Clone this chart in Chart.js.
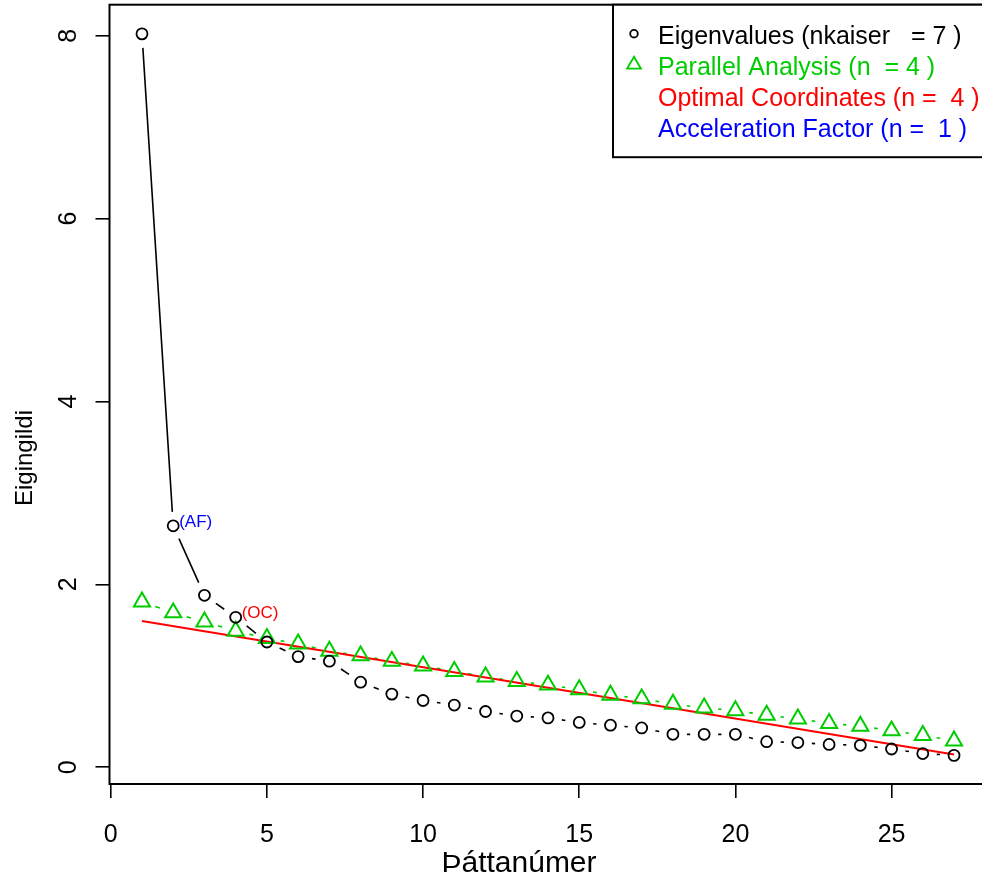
<!DOCTYPE html>
<html>
<head>
<meta charset="utf-8">
<script src="https://cdn.jsdelivr.net/npm/chart.js@4"></script>
<style>
  html, body { margin: 0; padding: 0; background: #fff; overflow: hidden; }
  canvas { display: block; }
</style>
</head>
<body>
<canvas id="scree" width="1000" height="882"></canvas>
<script>
// values
var factorNumbers = [1, 2, 3, 4, 5, 6, 7, 8, 9, 10, 11, 12, 13, 14, 15, 16, 17, 18, 19, 20, 21, 22, 23, 24, 25, 26, 27];
var eigenvalues = [8.02, 2.64, 1.88, 1.64, 1.37, 1.21, 1.16, 0.93, 0.80, 0.73, 0.68, 0.61, 0.56, 0.54, 0.49, 0.46, 0.43, 0.36, 0.36, 0.36, 0.28, 0.27, 0.25, 0.24, 0.20, 0.15, 0.13];
var parallelAnalysis = [1.81, 1.69, 1.59, 1.49, 1.41, 1.35, 1.27, 1.22, 1.16, 1.11, 1.05, 0.99, 0.94, 0.90, 0.85, 0.79, 0.75, 0.69, 0.65, 0.62, 0.57, 0.53, 0.48, 0.45, 0.40, 0.35, 0.29];
var ocLineX = [1, 27];
var ocLineY = [1.60, 0.14];
var xTickValues = [0, 5, 10, 15, 20, 25];
var yTickValues = [0, 2, 4, 6, 8];
var legendLabels = [
    'Eigenvalues (nkaiser   = 7 )',
    'Parallel Analysis (n  = 4 )',
    'Optimal Coordinates (n =  4 )',
    'Acceleration Factor (n =  1 )'
];
var legendColors = ['#000000', '#00cd00', '#ff0000', '#0000ff'];
var legendSymbols = ['circle', 'triangle', null, null];
var afFactor = 2;
var ocFactor = 4;

var FONT = "'Liberation Sans', Arial, sans-serif";

function toPoints(xs, ys) {
    return xs.map(function(x, i) { return { x: x, y: ys[i] }; });
}

// box + R style "b" lines (segments with gaps around the symbols)
var rBoxLines = {
    id: 'rBoxLines',
    beforeDatasetsDraw: function(chart) {
        var a = chart.chartArea, ctx = chart.ctx;
        ctx.save();
        ctx.lineWidth = 2;
        ctx.strokeStyle = '#000';
        ctx.strokeRect(a.left, a.top, a.right - a.left, a.bottom - a.top);
        chart.data.datasets.forEach(function(ds, i) {
            if (!ds.gap) return;
            var pts = chart.getDatasetMeta(i).data;
            ctx.strokeStyle = ds.borderColor;
            ctx.lineWidth = ds.segWidth;
            ctx.beginPath();
            for (var k = 1; k < pts.length; k++) {
                var p0 = pts[k - 1], p1 = pts[k];
                var dx = p1.x - p0.x, dy = p1.y - p0.y;
                var len = Math.sqrt(dx * dx + dy * dy);
                if (len <= 2 * ds.gap) continue;
                var ux = dx / len, uy = dy / len;
                ctx.moveTo(p0.x + ux * ds.gap, p0.y + uy * ds.gap);
                ctx.lineTo(p1.x - ux * ds.gap, p1.y - uy * ds.gap);
            }
            ctx.stroke();
        });
        ctx.restore();
    }
};

// y tick labels (rotated like R), titles, legend box and (AF)/(OC) labels
var rText = {
    id: 'rText',
    afterDraw: function(chart) {
        var ctx = chart.ctx, a = chart.chartArea;
        var yScale = chart.scales.y;
        ctx.save();
        ctx.fillStyle = '#000';

        // y tick labels, reading bottom to top
        ctx.font = '25px ' + FONT;
        ctx.textAlign = 'center';
        ctx.textBaseline = 'middle';
        yScale.ticks.forEach(function(t) {
            ctx.save();
            ctx.translate(69.5, yScale.getPixelForValue(t.value));
            ctx.rotate(-Math.PI / 2);
            ctx.fillText(String(t.value), 0, 0);
            ctx.restore();
        });

        // axis titles
        ctx.font = '30px ' + FONT;
        ctx.textBaseline = 'alphabetic';
        ctx.fillText('Þáttanúmer', 519, 872);

        ctx.save();
        ctx.translate(32, 458);
        ctx.rotate(-Math.PI / 2);
        ctx.font = '24px ' + FONT;
        ctx.fillText('Eigingildi', 0, 0);
        ctx.restore();

        // point labels
        var pts = chart.getDatasetMeta(0).data;
        ctx.font = '17px ' + FONT;
        ctx.textAlign = 'left';
        ctx.textBaseline = 'middle';
        var af = pts[afFactor - 1], oc = pts[ocFactor - 1];
        ctx.fillStyle = '#0000ff';
        ctx.fillText('(AF)', af.x + 6, af.y - 4);
        ctx.fillStyle = '#ff0000';
        ctx.fillText('(OC)', oc.x + 6, oc.y - 4);

        // legend (topright, runs off the right edge like the original)
        ctx.font = '25px ' + FONT;
        var right = a.right, top = a.top;
        var left = right - 373.5;
        var rowH = 31;
        var bottom = top + 152.5;
        ctx.fillStyle = '#fff';
        ctx.fillRect(left, top, right - left, bottom - top);
        ctx.lineWidth = 2;
        ctx.strokeStyle = '#000';
        ctx.strokeRect(left, top, right - left, bottom - top);
        legendLabels.forEach(function(t, i) {
            var cy = top + 32 + i * rowH;
            ctx.fillStyle = legendColors[i];
            ctx.textBaseline = 'middle';
            ctx.fillText(t, left + 45, cy);
            ctx.strokeStyle = legendColors[i];
            ctx.lineWidth = 1.8;
            var sx = left + 21, sy = cy - 3;
            if (legendSymbols[i] === 'circle') {
                ctx.beginPath();
                ctx.arc(sx, sy, 3.8, 0, Math.PI * 2);
                ctx.stroke();
            } else if (legendSymbols[i] === 'triangle') {
                var r = 8;
                ctx.beginPath();
                ctx.moveTo(sx, sy - r);
                ctx.lineTo(sx + r * 0.866, sy + r / 2);
                ctx.lineTo(sx - r * 0.866, sy + r / 2);
                ctx.closePath();
                ctx.stroke();
            }
        });
        ctx.restore();
    }
};

new Chart(document.getElementById('scree').getContext('2d'), {
    type: 'scatter',
    data: {
        datasets: [
            {
                label: 'Eigenvalues',
                data: toPoints(factorNumbers, eigenvalues),
                showLine: false,
                gap: 14,
                segWidth: 1.6,
                borderColor: '#000000',
                backgroundColor: 'rgba(0,0,0,0)',
                pointStyle: 'circle',
                pointRadius: 5.5,
                pointBorderWidth: 1.8
            },
            {
                label: 'Parallel Analysis',
                data: toPoints(factorNumbers, parallelAnalysis),
                showLine: false,
                gap: 14,
                segWidth: 1.6,
                borderColor: '#00cd00',
                backgroundColor: 'rgba(0,0,0,0)',
                pointStyle: 'triangle',
                pointRadius: 9.3,
                pointBorderWidth: 2
            },
            {
                label: 'Optimal Coordinates',
                data: toPoints(ocLineX, ocLineY),
                showLine: true,
                borderColor: '#ff0000',
                borderWidth: 2,
                pointRadius: 0
            }
        ]
    },
    options: {
        responsive: false,
        devicePixelRatio: 1,
        animation: false,
        layout: {
            autoPadding: false,
            padding: { top: 4.7, right: 13.5, left: 0, bottom: 0 }
        },
        plugins: {
            legend: { display: false },
            tooltip: { enabled: false }
        },
        scales: {
            x: {
                type: 'linear',
                min: -0.04,
                max: 28.04,
                afterBuildTicks: function(scale) {
                    scale.ticks = xTickValues.map(function(v) { return { value: v }; });
                },
                afterFit: function(scale) { scale.height = 98; },
                border: { display: false },
                grid: { drawOnChartArea: false, drawTicks: true, tickLength: 14, color: '#000', lineWidth: 1.6 },
                ticks: {
                    autoSkip: false,
                    maxRotation: 0,
                    padding: 22,
                    color: '#000',
                    font: { family: FONT, size: 25 }
                }
            },
            y: {
                type: 'linear',
                min: -0.183,
                max: 8.339,
                afterBuildTicks: function(scale) {
                    scale.ticks = yTickValues.map(function(v) { return { value: v }; });
                },
                afterFit: function(scale) { scale.width = 109.5; },
                border: { display: false },
                grid: { drawOnChartArea: false, drawTicks: true, tickLength: 14, color: '#000', lineWidth: 1.6 },
                ticks: { display: false }
            }
        }
    },
    plugins: [rBoxLines, rText]
});
</script>
</body>
</html>
